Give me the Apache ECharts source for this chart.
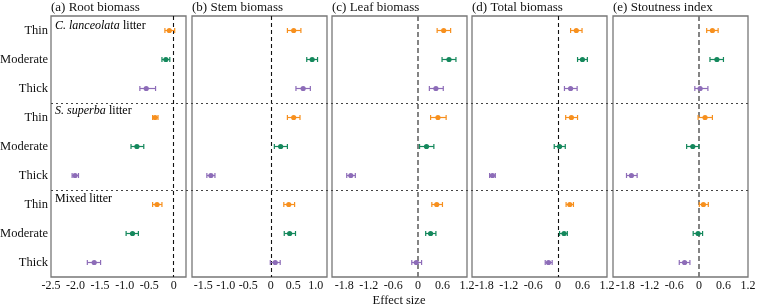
<!DOCTYPE html>
<html>
<head>
<meta charset="utf-8">
<script src="https://cdn.jsdelivr.net/npm/echarts@6/dist/echarts.min.js"></script>
<style>
  html, body { margin: 0; padding: 0; background: #fff; }
  #chart { width: 757px; height: 308px; }
</style>
</head>
<body>
<div id="chart"></div>
<script>
// rows, top to bottom
const rowLabels = ['Thin', 'Moderate', 'Thick', 'Thin', 'Moderate', 'Thick', 'Thin', 'Moderate', 'Thick']
const rowType = [0, 1, 2, 0, 1, 2, 0, 1, 2]
const typeColors = ['#f7901e', '#14885c', '#8d6cb8']

const panelTitles = ['(a) Root biomass', '(b) Stem biomass', '(c) Leaf biomass', '(d) Total biomass', '(e) Stoutness index']

// effect size means and CI bounds, per panel
const rootMean = [-0.09, -0.16, -0.56, -0.38, -0.75, -2.01, -0.34, -0.84, -1.62]
const rootLow = [-0.18, -0.24, -0.69, -0.43, -0.87, -2.07, -0.43, -0.97, -1.76]
const rootHigh = [0.02, -0.08, -0.37, -0.32, -0.61, -1.94, -0.24, -0.72, -1.49]

const stemMean = [0.51, 0.92, 0.72, 0.51, 0.22, -1.33, 0.40, 0.42, 0.10]
const stemLow = [0.37, 0.80, 0.56, 0.37, 0.08, -1.42, 0.29, 0.30, -0.01]
const stemHigh = [0.67, 1.04, 0.88, 0.65, 0.37, -1.24, 0.53, 0.55, 0.21]

const leafMean = [0.63, 0.76, 0.44, 0.49, 0.21, -1.64, 0.46, 0.31, -0.04]
const leafLow = [0.47, 0.59, 0.28, 0.31, 0.04, -1.74, 0.34, 0.19, -0.15]
const leafHigh = [0.80, 0.93, 0.62, 0.69, 0.39, -1.53, 0.60, 0.44, 0.09]

const totalMean = [0.45, 0.60, 0.31, 0.33, 0.04, -1.60, 0.29, 0.15, -0.23]
const totalLow = [0.31, 0.48, 0.16, 0.19, -0.09, -1.67, 0.20, 0.04, -0.31]
const totalHigh = [0.59, 0.72, 0.47, 0.48, 0.18, -1.53, 0.38, 0.23, -0.14]

const stoutMean = [0.33, 0.44, 0.03, 0.15, -0.15, -1.65, 0.11, -0.02, -0.35]
const stoutLow = [0.19, 0.27, -0.10, -0.02, -0.30, -1.77, 0.01, -0.14, -0.48]
const stoutHigh = [0.47, 0.60, 0.22, 0.33, 0.00, -1.51, 0.23, 0.09, -0.22]

const panels = [
  { mean: rootMean, low: rootLow, high: rootHigh, min: -2.5, max: 0.25, step: 0.25, every: 0.5, zero: 'black' },
  { mean: stemMean, low: stemLow, high: stemHigh, min: -1.75, max: 1.25, step: 0.25, every: 0.5, zero: 'black' },
  { mean: leafMean, low: leafLow, high: leafHigh, min: -2.1, max: 1.2, step: 0.3, every: 0.6, zero: 'grey' },
  { mean: totalMean, low: totalLow, high: totalHigh, min: -2.1, max: 1.2, step: 0.3, every: 0.6, zero: 'black' },
  { mean: stoutMean, low: stoutLow, high: stoutHigh, min: -2.1, max: 1.2, step: 0.3, every: 0.6, zero: 'grey' }
]

const FONT = '"Liberation Serif", "Times New Roman", serif'
const lefts = [51, 192, 332, 472, 613]
const panelW = 135
const plotTop = 16
const plotH = 261

const chart = echarts.init(document.getElementById('chart'))

function errRender(params, api) {
  const row = api.value(0)
  const c = typeColors[rowType[row]]
  const pLo = api.coord([api.value(1), row])
  const pHi = api.coord([api.value(2), row])
  const pM = api.coord([api.value(3), row])
  const cap = 2.5
  const st = { stroke: c, lineWidth: 1.2 }
  return {
    type: 'group',
    children: [
      { type: 'line', shape: { x1: pLo[0], y1: pLo[1], x2: pHi[0], y2: pHi[1] }, style: st },
      { type: 'line', shape: { x1: pLo[0], y1: pLo[1] - cap, x2: pLo[0], y2: pLo[1] + cap }, style: st },
      { type: 'line', shape: { x1: pHi[0], y1: pHi[1] - cap, x2: pHi[0], y2: pHi[1] + cap }, style: st },
      { type: 'circle', shape: { cx: pM[0], cy: pM[1], r: 2.6 }, style: { fill: c } }
    ]
  }
}

const grid = [], xAxis = [], yAxis = [], series = [], title = []

panels.forEach((p, i) => {
  grid.push({
    left: lefts[i], top: plotTop, width: panelW, height: plotH,
    outerBoundsMode: 'none', containLabel: false,
    show: true, borderColor: '#777', borderWidth: 1.3, backgroundColor: 'transparent'
  })
  xAxis.push({
    gridIndex: i, type: 'value', min: p.min, max: p.max, interval: p.step,
    splitLine: { show: false },
    axisLine: { show: false },
    axisTick: { show: false },
    axisLabel: {
      showMinLabel: true, showMaxLabel: true, hideOverlap: false,
      color: '#111', fontFamily: FONT, fontSize: 12, margin: 3,
      formatter: v => {
        const k = Math.round(v * 100), e = Math.round(p.every * 100)
        if (k % e !== 0) return ''
        return k === 0 ? '0' : (k / 100).toFixed(1)
      }
    }
  })
  yAxis.push({
    gridIndex: i, type: 'category', data: rowLabels, inverse: true,
    axisLine: { show: false }, axisTick: { show: false },
    axisLabel: { show: i === 0, color: '#111', fontFamily: FONT, fontSize: 12.5, margin: 3 }
  })
  const data = p.mean.map((m, r) => [r, p.low[r], p.high[r], m])
  series.push({
    type: 'custom', xAxisIndex: i, yAxisIndex: i, renderItem: errRender,
    encode: { x: [1, 2, 3], y: 0 },
    data: data, z: 5,
    markLine: {
      silent: true, symbol: 'none', label: { show: false },
      lineStyle: p.zero === 'grey'
        ? { color: '#777', width: 1.8, type: [5, 3] }
        : { color: '#111', width: 1.1, type: [4, 3] },
      data: [{ xAxis: 0 }]
    }
  })
  title.push({
    text: panelTitles[i], left: lefts[i], top: 1, padding: 0,
    textStyle: { fontFamily: FONT, fontSize: 13, fontWeight: 'normal', color: '#111' }
  })
})

// overlay grid for the dotted group separators across all panels
grid.push({ left: 51, top: plotTop, width: 748 - 51, height: plotH, outerBoundsMode: 'none', containLabel: false })
xAxis.push({ gridIndex: 5, type: 'value', min: 0, max: 1, show: false })
yAxis.push({ gridIndex: 5, type: 'value', min: 0, max: 9, inverse: true, show: false })
series.push({
  type: 'line', xAxisIndex: 5, yAxisIndex: 5, data: [],
  markLine: {
    silent: true, symbol: 'none', label: { show: false },
    lineStyle: { color: '#444', width: 1.1, type: [2, 3] },
    data: [{ yAxis: 3 }, { yAxis: 6 }]
  }
})

const groupStyle = {
  it: { fontFamily: FONT, fontSize: 12, fontStyle: 'italic', color: '#111' },
  n: { fontFamily: FONT, fontSize: 12, color: '#111' }
}

const option = {
  animation: false,
  title: title,
  grid: grid,
  xAxis: xAxis,
  yAxis: yAxis,
  series: series,
  graphic: [
    { type: 'text', left: 55, top: 20, style: { text: '{it|C. lanceolata} {n|litter}', rich: groupStyle } },
    { type: 'text', left: 55, top: 105, style: { text: '{it|S. superba} {n|litter}', rich: groupStyle } },
    { type: 'text', left: 55, top: 193, style: { text: '{n|Mixed litter}', rich: groupStyle } },
    { type: 'text', x: 399, y: 301, style: { text: 'Effect size', fontFamily: FONT, fontSize: 12.5, fill: '#111', align: 'center', verticalAlign: 'middle' } }
  ]
}

chart.setOption(option)
window.onresize = () => chart.resize()
</script>
</body>
</html>
